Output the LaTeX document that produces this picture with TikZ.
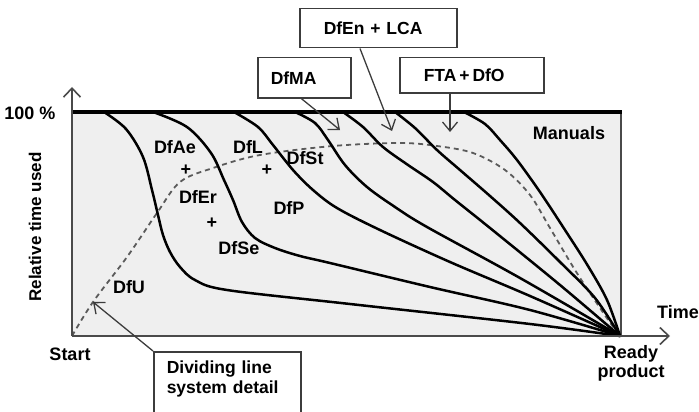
\documentclass[tikz,border=0pt]{standalone}
\usepackage{fontspec}
\setmainfont{Liberation Sans}
\usetikzlibrary{arrows.meta,calc}
\definecolor{plotfill}{HTML}{EFEFEF}
\definecolor{boxgrey}{HTML}{3C3C3C}
\definecolor{axisgrey}{HTML}{4A4A4A}
\definecolor{dashgrey}{HTML}{5A5A5A}
\begin{document}
\begin{tikzpicture}[x=1pt,y=-1pt,
  lbl/.style={font=\fontsize{18}{19}\selectfont\bfseries, inner sep=0pt},
  callout/.style={draw=boxgrey, line width=1.5pt, font=\fontsize{17.5}{20}\selectfont\bfseries,
     align=left, anchor=north west, inner ysep=0pt},
  curve/.style={line width=2.5pt, line cap=round, line join=round},
  dline/.style={draw=dashgrey, line width=1.8pt, dash pattern=on 5pt off 4pt},
  ptr/.style={draw=boxgrey, line width=1.3pt, -{Straight Barb[length=9pt,width=15pt,line width=1.3pt]}},
  axis/.style={draw=axisgrey, line width=1.6pt},
]
\useasboundingbox (0,0) rectangle (699,412);
\clip (0,0) rectangle (699,412);

% plot area
\fill[plotfill] (72,112) rectangle (621,336);
\draw[axis] (621,112) -- (621,336);

% named points
\coordinate (orig) at (72,336);
\coordinate (ready) at (620,336);
\coordinate (ytip) at (72,87);
\coordinate (xtip) at (670,336);

% dashed dividing line
\draw[dline] plot[smooth, tension=0.55] coordinates {(72,336) (93,302) (127,257) (157,213) (180,182) (213,168) (260,155) (333,146) (400,143) (437,146) (473,153) (505,170) (530,195) (550,228) (575,270) (600,308) (618,334)};

% solid curves
\draw[curve] plot[smooth, tension=0.55] coordinates {(104,112) (126,129) (143,157) (152,190) (158,215) (163,235) (170,252) (180,267) (195,280) (227,290) (350,304) (530,324) (620,336)};
\draw[curve] plot[smooth, tension=0.55] coordinates {(153,112) (187,127) (211,153) (224,180) (233,200) (242,222) (255,238) (275,248) (300,256) (330,263) (430,287) (530,310) (620,336)};
\draw[curve] plot[smooth, tension=0.55] coordinates {(234,112) (258,127) (273,145) (293,170) (313,190) (337,208) (380,230) (450,262) (530,296) (620,336)};
\draw[curve] plot[smooth, tension=0.55] coordinates {(295,112) (315,123) (328,140) (345,165) (367,187) (395,207) (427,227) (520,278) (620,336)};
\draw[curve] plot[smooth, tension=0.55] coordinates {(343,112) (363,127) (383,147) (408,165) (433,182) (455,200) (490,228) (560,285) (620,336)};
\draw[curve] plot[smooth, tension=0.55] coordinates {(395,112) (415,128) (437,150) (460,170) (490,196) (520,223) (560,262) (595,298) (620,336)};
\draw[curve] plot[smooth, tension=0.55] coordinates {(464,112) (485,124) (500,140) (517,160) (540,192) (565,230) (588,266) (607,300) (620,336)};

% top line and axes
\draw[line width=3.5pt] (72,112) -- (622,112);
\draw[axis, -{Straight Barb[length=9pt,width=17pt,line width=1.6pt]}] (orig) -- (xtip);
\draw[axis, -{Straight Barb[length=9pt,width=17pt,line width=1.6pt]}] (orig) -- (ytip);

% axis labels
\node[lbl] (hundred) at (30,113) {100 \%};
\node[lbl, rotate=90, font=\fontsize{17}{19}\selectfont\bfseries] (ylabel) at (35,227) {Relative time used};
\node[lbl] (timelbl) at (678,312) {Time};
\node[lbl] (startlbl) at (70,354) {Start};
\node[lbl, align=center] (readylbl) at (631,363) {Ready\\product};

% region labels
\node[lbl] (dfae) at (175,147) {DfAe};
\node[lbl] (plus1) at (186,170) {+};
\node[lbl] (dfer) at (198,197) {DfEr};
\node[lbl] (plus2) at (212,223) {+};
\node[lbl] (dfse) at (239,248) {DfSe};
\node[lbl] (dfu) at (129,287) {DfU};
\node[lbl] (dfl) at (248,147) {DfL};
\node[lbl] (plus3) at (267,170) {+};
\node[lbl] (dfst) at (305,158) {DfSt};
\node[lbl] (dfp) at (289,208) {DfP};
\node[lbl] (manuals) at (569,133) {Manuals};

% callout boxes
\node[callout, fill=white, minimum height=40pt, text width=67pt, inner xsep=13pt] (dfma) at (257,57) {DfMA};
\node[callout, fill=white, minimum height=39pt, text width=109pt, inner xsep=24pt] (dfen) at (299,8) {DfEn + LCA};
\node[callout, fill=white, minimum height=35pt, text width=96pt, inner xsep=24pt] (fta) at (399,57) {FTA\,+\,DfO};
\node[callout, fill=white, text width=121pt, inner xsep=13pt, inner ysep=9pt, text depth=50pt] (divl) at (153,351) {Dividing line\\system detail};

% pointer ends
\coordinate (dfmatip) at (340,130);
\coordinate (dfentip) at (392,131);
\coordinate (ftatip) at (450,132);
\coordinate (divtip) at (93,302);

\draw[ptr] ($(dfma.south)+(-3,0)$) -- (dfmatip);
\draw[ptr] ($(dfen.south west)+(61,0)$) -- (dfentip);
\draw[ptr] (fta.south -| ftatip) -- (ftatip);
\draw[ptr] (divl.north west) -- (divtip);
\end{tikzpicture}
\end{document}
